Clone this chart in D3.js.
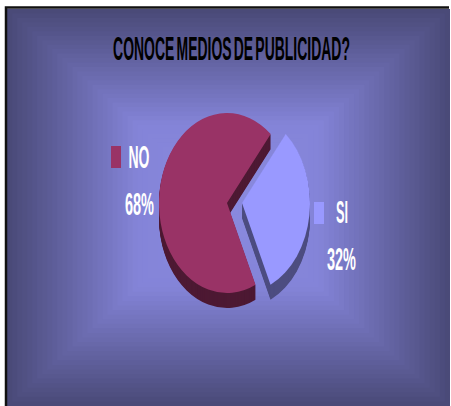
<!DOCTYPE html>
<html>
<head>
<meta charset="utf-8">
<script src="https://cdn.jsdelivr.net/npm/d3@7"></script>
<style>
html,body{margin:0;padding:0;background:#fff;overflow:hidden}
svg{display:block}
text{font-family:"Liberation Sans",Arial,sans-serif;font-weight:bold}
</style>
</head>
<body>
<svg id="chart" width="451" height="406"></svg>
<script>
const categories = ["NO", "SI"];
const values = [68, 32];
const percentLabels = ["68%", "32%"];
const titleText = "CONOCE MEDIOS DE PUBLICIDAD?";
const faceColors = ["#993366", "#9999ff"];
const sideColors = ["#4d1933", "#4d4d80"];

const svg = d3.select("#chart");
const frame = {x: 7, y: 9, w: 443, h: 397};
const glow = {x: 228, y: 205};
const bandCount = 44;

// Backdrop: concentric rectangular bands from the dark border to the bright middle
const shade = d3.scaleLinear().domain([0, 0.58, 1]).range(["#4a4a78", "#8484d8", "#8a8adf"]);
const bandPath = t => {
  const x0 = frame.x + (glow.x - frame.x) * t,
        x1 = frame.x + frame.w - (frame.x + frame.w - glow.x) * t,
        y0 = frame.y + (glow.y - frame.y) * t,
        y1 = frame.y + frame.h - (frame.y + frame.h - glow.y) * t;
  return `M${x0},${y0}H${x1}V${y1}H${x0}Z`;
};
svg.append("g").selectAll("path")
  .data(d3.range(bandCount))
  .join("path")
  .attr("d", i => bandPath(i / bandCount))
  .attr("fill", i => shade(i / bandCount));

// Frame lines on the left and top
svg.append("path")
  .attr("d", `M6,406V7.5H449`)
  .attr("fill", "none").attr("stroke", "#111").attr("stroke-width", 2.5);

// Squeezes a text horizontally so it fills the given width around its centre
function fitWidth(sel, cx, baseline, width) {
  const natural = sel.node().getComputedTextLength();
  sel.attr("text-anchor", "middle")
    .attr("transform", `translate(${cx},${baseline}) scale(${width / natural},1)`);
}

// Title
const title = svg.append("text")
  .attr("font-size", 33)
  .attr("word-spacing", -4)
  .attr("fill", "#000")
  .text(titleText);
fitWidth(title, 231.5, 60, 237);

// Pie: tall ellipse with extruded sides, SI slice pulled out to the right
const rx = 68, ry = 90, depth = 15, cy = 203;
const centers = [227, 242];
const pieLayout = d3.pie().sort(null)
  .startAngle(155.2 * Math.PI / 180)
  .endAngle((155.2 + 360) * Math.PI / 180);
const arc = d3.arc().innerRadius(0).outerRadius(ry);
const slices = pieLayout(values);

const pie = svg.append("g");
slices.forEach((s, i) => {
  const g = pie.append("g");
  const place = dy => `translate(${centers[i]},${cy + dy}) scale(${rx / ry},1)`;
  g.selectAll("path.side")
    .data(d3.range(depth, 0, -1))
    .join("path")
    .attr("class", "side")
    .attr("d", arc(s))
    .attr("transform", dy => place(dy))
    .attr("fill", sideColors[i]);
  g.append("path")
    .attr("d", arc(s))
    .attr("transform", place(0))
    .attr("fill", faceColors[i]);
});

// Legend keys and labels set beside the pie
const keyBoxes = [{x: 111, y: 146}, {x: 314, y: 202}];
const nameSpots = [{x: 139, y: 167.5, w: 21}, {x: 342, y: 223, w: 12}];
const pctSpots = [{x: 139.5, y: 214.5, w: 29}, {x: 341.5, y: 269.5, w: 29}];
const labelSize = 31;

svg.append("g").selectAll("rect")
  .data(categories)
  .join("rect")
  .attr("x", (d, i) => keyBoxes[i].x)
  .attr("y", (d, i) => keyBoxes[i].y)
  .attr("width", 10).attr("height", 22)
  .attr("fill", (d, i) => faceColors[i]);

const addLabels = (texts, spots) => svg.append("g").selectAll("text")
  .data(texts)
  .join("text")
  .attr("font-size", labelSize)
  .attr("fill", "#fff")
  .text(d => d)
  .each(function (d, i) {
    fitWidth(d3.select(this), spots[i].x, spots[i].y, spots[i].w);
  });

addLabels(categories, nameSpots);
addLabels(percentLabels, pctSpots);
</script>
</body>
</html>
